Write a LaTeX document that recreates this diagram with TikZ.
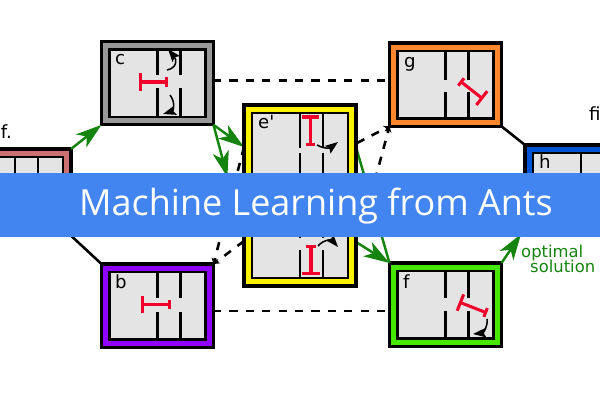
\documentclass[tikz,border=0pt]{standalone}
\usepackage{fontspec}
\setmainfont{DejaVu Sans}
\newfontfamily\bannerfont{Open Sans}
\usetikzlibrary{arrows.meta,calc}
\definecolor{roomgray}{HTML}{E4E4E4}
\definecolor{pathgreen}{HTML}{14840F}
\definecolor{bannerblue}{HTML}{4285F0}
\definecolor{barred}{HTML}{F0002A}
\tikzset{
  roombox/.style={draw=black,line width=2.6pt,minimum width=3.36cm,minimum height=2.5cm,inner sep=0pt,outer sep=0pt,anchor=north west},
  inbox/.style={draw=black,line width=2pt,fill=roomgray},
  wall/.style={line width=2.2pt},
  bar/.style={barred,line width=2.6pt},
  barlong/.style={bar,{Bar[width=8pt,length=0pt]}-{Bar[width=15pt,length=0pt]}},
  move/.style={line width=1.3pt,-{Stealth[length=11pt,width=8pt,inset=2pt]}},
  good/.style={pathgreen,line width=2.1pt,-{Stealth[length=22pt,width=14pt,inset=6pt]}},
  goodplain/.style={pathgreen,line width=2.1pt},
  solid/.style={line width=2.2pt},
  bad/.style={line width=2.2pt,dash pattern=on 7pt off 7pt},
  badtip/.style={bad,-{Stealth[length=5pt,width=6pt]}},
  tag/.style={font=\fontsize{15.5}{15.5}\selectfont,inner sep=0pt,anchor=base west},
  note/.style={font=\fontsize{14}{14}\selectfont,text=pathgreen,inner sep=0pt,anchor=base west},
}
% grey floor and two walls of a room, gap given from the top of the box
\newcommand{\roomfloor}[3]{
  \draw[inbox] ($(#1.north west)+(8,8)$) rectangle ($(#1.south east)+(-8,-8)$);
  \foreach \wx in {56,79} {
    \draw[wall] ($(#1.north west)+(\wx,8)$) -- ($(#1.north west)+(\wx,#2)$);
    \draw[wall] ($(#1.north west)+(\wx,#3)$) -- ($(#1.south west)+(\wx,-8)$);
  }
}
\begin{document}
\begin{tikzpicture}[x=0.03cm,y=-0.03cm]
\useasboundingbox (0,0) rectangle (600,400);
\clip (0,0) rectangle (600,400);

% Ends of connectors
\coordinate (cdown) at (227.4,177);
\coordinate (cdash) at (213,80.5);
\coordinate (gdash) at (389,80.5);
\coordinate (bdash) at (213,311);
\coordinate (fdash) at (389,311);
\coordinate (eleft) at (244,147);
\coordinate (elow) at (244,241);
\coordinate (eright) at (357,143);
\coordinate (eback) at (362,228);
\coordinate (egreen) at (356,147);
\coordinate (egreenlow) at (356,242);

% Boxes
\node[roombox,fill=black!40] (c) at (101.5,41.5) {};
\node[roombox,fill={rgb,255:red,144;green,0;blue,255}] (b) at (101.5,264) {};
\node[roombox,fill={rgb,255:red,255;green,136;blue,46}] (g) at (389.5,43) {};
\node[roombox,fill={rgb,255:red,70;green,232;blue,0}] (f) at (389.5,263) {};
\node[roombox,fill={rgb,255:red,0;green,85;blue,212}] (h) at (525,145) {};
\node[roombox,fill={rgb,255:red,204;green,112;blue,112},minimum height=2.6cm] (ref) at (-41,149) {};

% Connectors
\draw[bad] (cdash) -- (gdash);
\draw[bad] (bdash) -- (fdash);
\draw[badtip] (eleft) -- (b.north east);
\draw[badtip] (elow) -- (b.north east);
\draw[badtip] (eright) -- (g.south west);
\draw[badtip] (eback) -- (g.south west);
\draw[goodplain] (egreen) -- (f.north west);
\draw[good] (egreenlow) -- (f.north west);
\draw[good] (c.south east) -- (eleft);
\draw[good] (c.south east) -- (cdown);
\draw[solid] (ref.south east) -- (b.north west);
\draw[solid] (g.south east) -- (h.north west);
\draw[good] (ref.north east) -- (c.south west);
\draw[good,shorten >=6pt] (f.north east) -- (h.south west);

\node[roombox,fill=yellow,minimum height=5.43cm] (e) at (244,105) {};

\roomfloor{c}{34}{47}
\roomfloor{b}{34}{48}
\roomfloor{g}{37}{49}
\roomfloor{f}{35}{48}
\roomfloor{h}{34}{47}
\roomfloor{ref}{34}{47}
\roomfloor{e}{43}{48}
\fill[roomgray] (298,238) rectangle (324,249.5);

% Red bars
\draw[barlong] (168,82) -- (139,82);
\draw[barlong] (171,304.5) -- (141,304.5);
\draw[barlong] (310.5,146) -- (310.5,115.5);
\draw[barlong] (311,245) -- (311,275);
\draw[barlong] (460,81) -- (483,99);
\draw[barlong] (487,313) -- (459,302);

% Moves
\draw[move] (167,70) .. controls (177,68) and (177,60) .. (168,49);
\draw[move] (170,95) .. controls (176,103) and (173,111) .. (163,114);
\draw[move] (317,145) .. controls (323,149) and (330,148) .. (338,142);
\draw[move] (318,246) .. controls (324,239) and (332,240) .. (338,247);
\draw[move] (487,319) .. controls (488,327) and (483,333) .. (473,334);

% Labels
\node[tag] (ctag) at (115,65) {c};
\node[tag] (btag) at (115,288) {b};
\node[tag] (etag) at (258,129) {e\textquotesingle};
\node[tag] (gtag) at (404,68) {g};
\node[tag] (ftag) at (403,288) {f};
\node[tag] (htag) at (539,169) {h};
\node[tag,anchor=base east] (reftag) at (12,139) {f.};
\node[tag] (fitag) at (589,121) {fi};
\node[note] (opt) at (521,257) {optimal};
\node[note] (sol) at (530,272) {solution};

% Banner
\fill[bannerblue] (0,173) rectangle (600,237);
\node[text=white,font=\bannerfont\fontsize{30.7}{31}\selectfont,inner sep=0pt,anchor=base west] (title) at (79,215) {Machine Learning from Ants};

\end{tikzpicture}
\end{document}
